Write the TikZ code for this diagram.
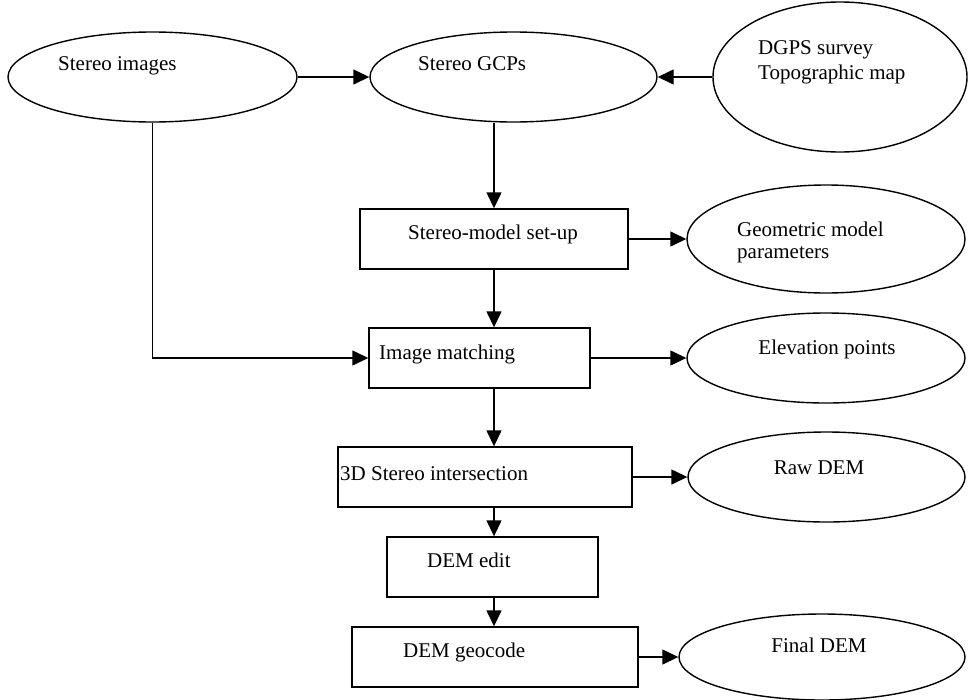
\documentclass[tikz,border=0pt]{standalone}
\usepackage{fontspec}
\setmainfont{Liberation Serif}
\usetikzlibrary{shapes.geometric,arrows.meta}
\begin{document}
\begin{tikzpicture}[x=1pt,y=-1pt,
  every node/.style={font=\fontsize{21}{25}\selectfont},
  ell/.style={draw,ellipse,line width=1.4pt,inner sep=0pt},
  box/.style={draw,rectangle,line width=1.4pt,inner sep=0pt,minimum height=60pt},
  txt/.style={inner sep=0pt,anchor=base west,align=left},
  ctxt/.style={inner sep=0pt,anchor=base},
  arr/.style={line width=1.4pt,-{Triangle[length=16pt,width=15pt]}},
  ln/.style={line width=1.4pt}]
\useasboundingbox (0,0) rectangle (968,699);
% ellipses
\node[ell,minimum width=289pt,minimum height=90pt] (si) at (152.5,77) {};
\node[ell,minimum width=287pt,minimum height=90pt] (gcp) at (513.5,77) {};
\node[ell,minimum width=254pt,minimum height=150pt] (dg) at (840,77) {};
\node[ell,minimum width=278pt,minimum height=108pt] (geo) at (826,239) {};
\node[ell,minimum width=278pt,minimum height=90pt] (elev) at (826,358) {};
\node[ell,minimum width=277pt,minimum height=90pt] (raw) at (826.5,477) {};
\node[ell,minimum width=286pt,minimum height=86pt] (fin) at (822,657) {};
% boxes
\node[box,minimum width=268pt] (sm) at (494,239) {};
\node[box,minimum width=221pt] (im) at (479.5,358) {};
\node[box,minimum width=294pt] (st) at (485,477) {};
\node[box,minimum width=211pt] (ed) at (492.5,567) {};
\node[box,minimum width=286pt] (gc) at (495,657) {};
% texts
\node[txt] (tsi) at (58,70) {Stereo images};
\node[txt] (tgcp) at (418,70) {Stereo GCPs};
\node[txt] (tdg1) at (758,54) {DGPS survey};
\node[txt] (tdg2) at (758,79) {Topographic map};
\node[txt] (tgeo1) at (737,236) {Geometric model};
\node[txt] (tgeo2) at (737,258) {parameters};
\node[txt] (tsm) at (408,239) {Stereo-model set-up};
\node[txt] (tim) at (379,359) {Image matching};
\node[ctxt] (telev) at (827,354) {Elevation points};
\node[txt] (tst) at (340,480) {3D Stereo intersection};
\node[ctxt] (traw) at (819,474) {Raw DEM};
\node[txt] (ted) at (427,567) {DEM edit};
\node[txt] (tgc) at (403,657) {DEM geocode};
\node[ctxt] (tfin) at (819,652) {Final DEM};
% connectors
\coordinate (spine) at (494,0);
\draw[arr] (si.east) -- (gcp.west);
\draw[arr] (dg.west) -- (gcp.east);
\draw[arr] (gcp.south -| spine) -- (sm.north -| spine);
\draw[arr] (sm.south -| spine) -- (im.north -| spine);
\draw[arr] (im.south -| spine) -- (st.north -| spine);
\draw[arr] (st.south -| spine) -- (ed.north -| spine);
\draw[arr] (ed.south -| spine) -- (gc.north -| spine);
\draw[arr] (si.south) |- (im.west);
\draw[arr] (sm.east) -- (geo.west);
\draw[arr] (im.east) -- (elev.west);
\draw[arr] (st.east) -- (raw.west);
\draw[arr] (gc.east) -- (fin.west);
\end{tikzpicture}
\end{document}
